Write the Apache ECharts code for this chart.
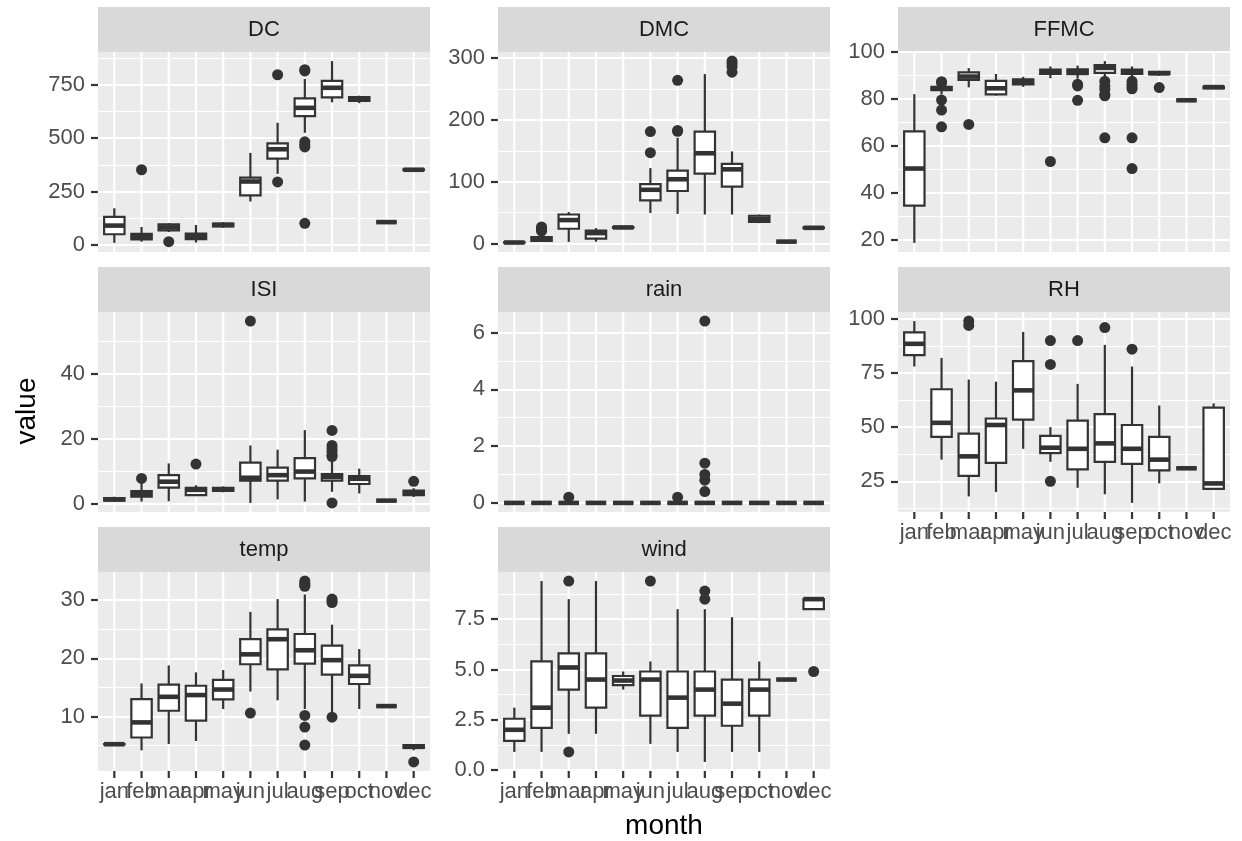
<!DOCTYPE html>
<html><head><meta charset="utf-8">
<script src="https://cdn.jsdelivr.net/npm/echarts@6/dist/echarts.min.js"></script>
<style>html,body{margin:0;padding:0;background:#fff;}#c{width:1242px;height:841px;}</style>
</head><body><div id="c"></div>
<script>
// ---------------- data ----------------
const months = ['jan','feb','mar','apr','may','jun','jul','aug','sep','oct','nov','dec'];
const panelNames = ['DC','DMC','FFMC','ISI','rain','RH','temp','wind'];

// box stats per month: [lower whisker, Q1, median, Q3, upper whisker]
const DC_box = [[9.3,49.8,90.4,130.9,171.4],[15,26,38,52,84],[60,68,82,96,102],[11,27,42,53,93],[80,87,93.5,100,107],[203,232,297,315,431],[333,404,448,476,572],[525,603,642,686,777],[668,691,736,768,861],[664,674,684,692,699],[106.7,106.7,106.7,106.7,106.7],[349,350,352,354,355]];
const DC_out = [['feb',352],['mar',15],['jul',797],['jul',295],['aug',821],['aug',815],['aug',483],['aug',470],['aug',459],['aug',101]];
const DC_ticks = [0,250,500,750];
const DC_minor = [125,375,625,875];

const DMC_box = [[1.1,1.4,1.75,2.1,2.4],[2.9,4.5,6.6,10.5,15.5],[2.7,24,38,47,51],[3,8,17,21,25],[25,25.5,26.1,26.7,27.3],[49.5,70,87,96,122],[48,85,104,118,171],[47,113,146,181,274],[47,92,120,129,149],[33,35,40,45,47],[3.2,3.2,3.2,3.2,3.2],[24.5,25,25.5,26,26.5]];
const DMC_out = [['feb',20],['feb',22],['feb',24.5],['feb',27],['jun',181],['jun',147],['jul',264],['jul',181.5],['jul',183],['sep',295],['sep',291],['sep',286],['sep',277]];
const DMC_ticks = [0,100,200,300];
const DMC_minor = [50,150,250];

const FFMC_box = [[18.7,34.55,50.4,66.25,82.1],[82,83.8,84.6,85.2,86.6],[85,88.2,89.6,91.4,93.2],[81.5,82,84.6,87.8,90.7],[85.2,86.3,87.35,88.4,89.5],[88.9,90.7,91.6,92.6,93.9],[88.7,90.6,91.6,92.7,94.3],[88.6,91.2,93.3,94.5,96.2],[88.6,90.7,91.7,92.6,93.9],[90,90.6,91,91.6,92.1],[79.5,79.5,79.5,79.5,79.5],[84.4,84.6,85.1,85.3,85.4]];
const FFMC_out = [['feb',87.4],['feb',86.9],['feb',79.6],['feb',75.3],['feb',68.2],['mar',69.2],['jun',53.4],['jul',85.6],['jul',86.3],['jul',79.5],['aug',87.6],['aug',85.6],['aug',84.2],['aug',82],['aug',81.4],['aug',63.5],['sep',87.6],['sep',86.3],['sep',85.3],['sep',84.4],['sep',63.5],['sep',50.4],['oct',84.9]];
const FFMC_ticks = [20,40,60,80,100];
const FFMC_minor = [30,50,70,90];

const ISI_box = [[0.7,1.1,1.5,1.9,2.3],[0.8,2.3,3.1,4.0,6.5],[0.9,5.1,6.9,8.9,12.5],[2.5,2.8,4.4,5.0,5.8],[3.65,4.1,4.55,5.0,5.45],[0.4,7.2,8.1,12.75,18.0],[1.5,7.2,8.9,11.2,16.7],[0.8,7.9,10.0,14.1,22.7],[3.8,7.2,8.4,9.2,13.2],[3.3,6.2,7.8,8.6,10.9],[1.1,1.1,1.1,1.1,1.1],[2.2,2.8,3.6,4.2,4.9]];
const ISI_out = [['feb',7.9],['apr',12.3],['jun',56.1],['sep',22.6],['sep',18.0],['sep',17.0],['sep',16.0],['sep',15.0],['sep',14.6],['sep',0.4],['dec',7.0]];
const ISI_ticks = [0,20,40];
const ISI_minor = [10,30,50];

const rain_box = [[0,0,0,0,0],[0,0,0,0,0],[0,0,0,0,0],[0,0,0,0,0],[0,0,0,0,0],[0,0,0,0,0],[0,0,0,0,0],[0,0,0,0,0],[0,0,0,0,0],[0,0,0,0,0],[0,0,0,0,0],[0,0,0,0,0]];
const rain_out = [['mar',0.2],['jul',0.2],['aug',0.4],['aug',0.8],['aug',1.0],['aug',1.4],['aug',6.4]];
const rain_ticks = [0,2,4,6];
const rain_minor = [1,3,5];

const RH_box = [[78,83.25,88.5,93.75,99],[35,45.5,52,67.5,82],[18,27.5,36.5,47,72],[20,33.5,51,54,71],[40,53.5,67,80.5,94],[34,38,40.5,46,50],[22,30.5,40,53,70],[19,34,42.5,56,88],[15,33,40,51,78],[24,30,35,45.5,60],[31,31,31,31,31],[21,21.5,24,59,61]];
const RH_out = [['mar',99],['mar',97],['jun',90],['jun',79],['jun',25],['jul',90],['aug',96],['sep',86]];
const RH_ticks = [25,50,75,100];
const RH_minor = [12.5,37.5,62.5,87.5];

const temp_box = [[5.2,5.225,5.25,5.275,5.3],[4.2,6.4,9.0,13.0,15.7],[5.3,11.0,13.4,15.5,18.8],[5.8,9.3,13.7,15.3,17.6],[11.3,12.975,14.65,16.325,18.0],[14.3,19.0,20.7,23.3,28.0],[12.8,18.1,23.3,25.0,30.2],[11.3,19.1,21.4,24.2,31.0],[10.6,17.2,19.7,22.2,25.8],[11.3,15.6,17.0,18.8,21.6],[11.8,11.8,11.8,11.8,11.8],[4.2,4.6,4.8,5.1,5.1]];
const temp_out = [['jun',10.6],['aug',33.3],['aug',32.9],['aug',32.6],['aug',32.4],['aug',10.2],['aug',8.2],['aug',5.1],['sep',30.2],['sep',29.9],['sep',29.6],['sep',9.9],['dec',2.2]];
const temp_ticks = [10,20,30];
const temp_minor = [5,15,25];

const wind_box = [[0.9,1.45,2.0,2.55,3.1],[0.9,2.1,3.1,5.4,9.4],[1.8,4.0,5.1,5.8,8.5],[1.8,3.1,4.5,5.8,9.4],[4.0,4.225,4.45,4.675,4.9],[1.3,2.7,4.5,4.9,5.4],[0.9,2.1,3.6,4.9,8.0],[0.4,2.7,4.0,4.9,8.0],[0.9,2.2,3.3,4.5,7.6],[0.9,2.7,4.0,4.5,5.4],[4.5,4.5,4.5,4.5,4.5],[8.0,8.0,8.5,8.5,8.5]];
const wind_out = [['mar',9.4],['mar',0.9],['jun',9.4],['aug',8.9],['aug',8.5],['dec',4.9]];
const wind_ticks = [0,2.5,5,7.5];
const wind_minor = [1.25,3.75,6.25,8.75];

const xLabel = 'month';
const yLabel = 'value';

// ---------------- layout / style ----------------
const FONT = '"Liberation Sans", Arial, Helvetica, sans-serif';
const colLeft = [98, 498, 898];
const rowTop = [7, 267, 527];
const PANEL_W = 332, STRIP_H = 45, PANEL_H = [200, 200, 199];
const DARK = '#333333';
const BOX_LW = 2.2, MED_LW = 4.6, GRID_MAJ = 2.2, GRID_MIN = 1.1;
const TICK_FS = 22, TITLE_FS = 28;

const panels = [
  {name:'DC', box:DC_box, out:DC_out, ticks:DC_ticks, minor:DC_minor},
  {name:'DMC', box:DMC_box, out:DMC_out, ticks:DMC_ticks, minor:DMC_minor},
  {name:'FFMC', box:FFMC_box, out:FFMC_out, ticks:FFMC_ticks, minor:FFMC_minor},
  {name:'ISI', box:ISI_box, out:ISI_out, ticks:ISI_ticks, minor:ISI_minor},
  {name:'rain', box:rain_box, out:rain_out, ticks:rain_ticks, minor:rain_minor},
  {name:'RH', box:RH_box, out:RH_out, ticks:RH_ticks, minor:RH_minor},
  {name:'temp', box:temp_box, out:temp_out, ticks:temp_ticks, minor:temp_minor},
  {name:'wind', box:wind_box, out:wind_out, ticks:wind_ticks, minor:wind_minor, fmt:v=>v.toFixed(1)}
];
const showX = [false,false,false,false,false,true,true,true];

function renderBox(params, api) {
  const x = api.value(0);
  const lo = api.coord([x, api.value(1)]);
  const q1 = api.coord([x, api.value(2)]);
  const md = api.coord([x, api.value(3)]);
  const q3 = api.coord([x, api.value(4)]);
  const hi = api.coord([x, api.value(5)]);
  const hw = api.size([0.75, 0])[0] / 2;
  return {type:'group', children:[
    {type:'line', shape:{x1:hi[0],y1:hi[1],x2:q3[0],y2:q3[1]}, style:{stroke:DARK,lineWidth:BOX_LW}},
    {type:'line', shape:{x1:q1[0],y1:q1[1],x2:lo[0],y2:lo[1]}, style:{stroke:DARK,lineWidth:BOX_LW}},
    {type:'rect', shape:{x:q3[0]-hw,y:q3[1],width:2*hw,height:q1[1]-q3[1]}, style:{fill:'#ffffff',stroke:DARK,lineWidth:BOX_LW}},
    {type:'line', shape:{x1:md[0]-hw,y1:md[1],x2:md[0]+hw,y2:md[1]}, style:{stroke:DARK,lineWidth:MED_LW}}
  ]};
}

// discrete x axis: vertical grid line, tick and label at each month, placed through the axis scale
function makeXFrame(withLabels) {
  return function (params, api) {
    const x = api.value(0);
    const c = api.coord([x, api.value(1)]);
    const cs = params.coordSys;
    const bottom = cs.y + cs.height;
    const children = [
      {type:'line', shape:{x1:c[0],y1:cs.y,x2:c[0],y2:bottom}, style:{stroke:'#FFFFFF',lineWidth:GRID_MAJ}}
    ];
    if (withLabels) {
      children.push({type:'line', shape:{x1:c[0],y1:bottom,x2:c[0],y2:bottom+7}, style:{stroke:DARK,lineWidth:2.2}});
      children.push({type:'text', style:{text:months[Math.round(x)-1], x:c[0], y:bottom+10, align:'center', verticalAlign:'top', fill:'#4D4D4D', fontSize:TICK_FS, fontFamily:FONT}});
    }
    return {type:'group', children};
  };
}

const grid = [], xAxis = [], yAxis = [], series = [], graphic = [];
panels.forEach((p, k) => {
  const col = k % 3, row = Math.floor(k / 3);
  const left = colLeft[col], top = rowTop[row] + STRIP_H, h = PANEL_H[row];
  grid.push({left:left, top:top, width:PANEL_W, height:h, show:true, backgroundColor:'#EBEBEB', borderWidth:0, containLabel:false, outerBoundsMode:'none'});
  // data range with ggplot's 5% expansion
  let vals = [];
  p.box.forEach(b => vals.push(...b));
  p.out.forEach(o => vals.push(o[1]));
  const lo = Math.min(...vals), hi = Math.max(...vals), pad = (hi - lo) * 0.05;
  const ymin = lo - pad, ymax = hi + pad;
  xAxis.push({type:'value', gridIndex:k, min:0.4, max:12.6,
    axisLine:{show:false}, axisTick:{show:false}, axisLabel:{show:false}, splitLine:{show:false}
  });
  yAxis.push({type:'value', gridIndex:k, min:ymin, max:ymax,
    axisLine:{show:false},
    axisTick:{show:true, customValues:p.ticks, length:7, lineStyle:{color:DARK,width:2.2}},
    axisLabel:{show:true, customValues:p.ticks, formatter:p.fmt || (v=>String(v)), color:'#4D4D4D', fontSize:TICK_FS, fontFamily:FONT, margin:13, hideOverlap:false},
    splitLine:{show:true, lineStyle:{color:'#FFFFFF', width:GRID_MAJ}}
  });
  yAxis.push({type:'value', gridIndex:k, min:ymin, max:ymax,
    axisLine:{show:false},
    axisTick:{show:false, customValues:p.minor},
    axisLabel:{show:false, customValues:p.minor},
    splitLine:{show:true, lineStyle:{color:'#FFFFFF', width:GRID_MIN}}
  });
  series.push({type:'custom', xAxisIndex:k, yAxisIndex:2*k, renderItem:makeXFrame(showX[k]),
    encode:{x:0, y:1}, silent:true, z:1, clip:false,
    data:months.map((m,i)=>[i+1, ymin])});
  series.push({type:'custom', xAxisIndex:k, yAxisIndex:2*k, renderItem:renderBox,
    encode:{x:0, y:[1,2,3,4,5]}, silent:true, z:3,
    data:p.box.map((b,i)=>[i+1].concat(b))});
  series.push({type:'scatter', xAxisIndex:k, yAxisIndex:2*k, symbol:'circle', symbolSize:11, silent:true, z:4,
    itemStyle:{color:DARK, opacity:1}, data:p.out.map(o=>[months.indexOf(o[0])+1, o[1]])});
  // strip
  graphic.push({type:'rect', shape:{x:left, y:rowTop[row], width:PANEL_W, height:STRIP_H}, style:{fill:'#D9D9D9'}, silent:true});
  graphic.push({type:'text', x:left + PANEL_W/2, y:rowTop[row] + STRIP_H/2, style:{text:p.name, fill:'#1A1A1A', fontSize:TICK_FS, fontFamily:FONT, align:'center', verticalAlign:'middle'}, silent:true});
});
graphic.push({type:'text', x:664, y:826, style:{text:xLabel, fill:'#000000', fontSize:TITLE_FS, fontFamily:FONT, align:'center', verticalAlign:'middle'}, silent:true});
graphic.push({type:'text', x:27, y:411, rotation:Math.PI/2, style:{text:yLabel, fill:'#000000', fontSize:TITLE_FS, fontFamily:FONT, align:'center', verticalAlign:'middle'}, silent:true});

const chart = echarts.init(document.getElementById('c'), null, {renderer:'canvas'});
chart.setOption({animation:false, backgroundColor:'#FFFFFF', grid, xAxis, yAxis, series, graphic});
</script></body></html>
